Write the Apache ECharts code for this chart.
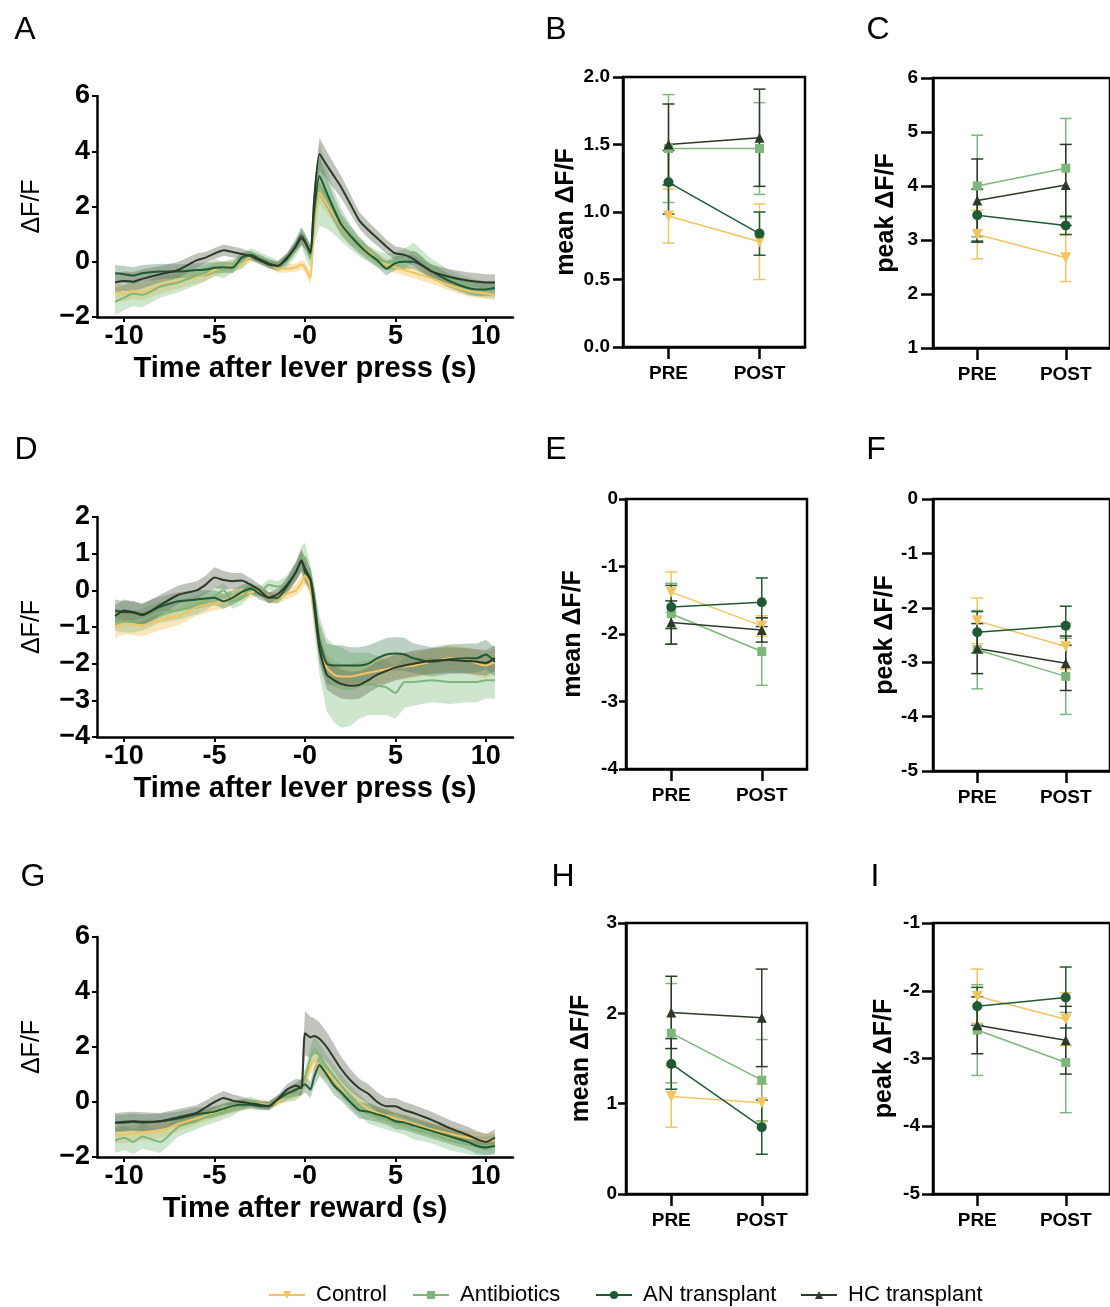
<!DOCTYPE html>
<html><head><meta charset="utf-8">
<script src="https://cdn.jsdelivr.net/npm/echarts@6/dist/echarts.min.js"></script>
<style>html,body{margin:0;padding:0;background:#fff}#main{width:1110px;height:1307px}</style>
</head><body><div id="main"></div>
<script>
const FONT = "'Liberation Sans', Arial, Helvetica, sans-serif";
const groups = ['Control', 'Antibiotics', 'AN transplant', 'HC transplant'];
const phases = ['PRE', 'POST'];
const timeTicks = [-10, -5, 0, 5, 10];

// time axis (s) shared by the three trace panels
const T = [-10.5,-10,-9.5,-9,-8,-7,-6,-5.5,-5,-4.5,
           -4,-3.5,-3,-2.5,-2,-1.5,-1,-0.5,-0.2,0,
           0.3,0.5,0.8,1.2,1.6,2,2.5,3,3.5,4,
           4.5,5,5.5,6,7,8,9,9.5,10,10.5];

// ---- Panel A (lever press) : mean traces ----
const A_Ctrl = [-1.1,-1.15,-1.05,-1.1,-0.85,-0.7,-0.55,-0.45,-0.3,-0.2,
                -0.15,-0.05,0.15,0.1,-0.05,-0.25,-0.25,-0.2,-0.1,-0.2,
                -0.6,1.2,2.5,2.1,1.7,1.3,0.9,0.6,0.35,0.1,
                -0.1,-0.2,-0.3,-0.4,-0.6,-0.85,-1.05,-1.1,-1.15,-1.2];
const A_Anti = [-1.45,-1.3,-1.15,-1.2,-0.9,-0.75,-0.5,-0.4,-0.2,-0.3,
                -0.15,0.0,0.3,0.15,0.0,-0.15,0.05,0.5,0.9,0.6,
                0.15,1.6,2.8,2.3,1.8,1.35,0.9,0.55,0.3,0.1,
                0.0,0.05,0.1,0.35,-0.2,-0.6,-0.85,-0.95,-1.0,-1.0];
const A_AN   = [-0.42,-0.45,-0.5,-0.42,-0.35,-0.35,-0.3,-0.28,-0.22,-0.2,
                -0.22,0.15,0.25,0.1,-0.05,-0.15,0.1,0.6,0.95,0.75,
                0.3,1.8,3.1,2.5,1.9,1.35,0.95,0.6,0.3,0.05,
                -0.25,-0.05,0.0,0.0,-0.35,-0.7,-0.95,-1.0,-1.0,-0.95];
const A_HC   = [-0.75,-0.7,-0.72,-0.62,-0.45,-0.3,0.05,0.15,0.3,0.42,
                0.35,0.28,0.2,0.05,-0.1,-0.15,0.15,0.55,0.85,0.7,
                0.35,2.2,3.9,3.5,3.1,2.7,2.1,1.5,1.15,0.85,
                0.55,0.3,0.25,0.1,-0.35,-0.55,-0.68,-0.72,-0.75,-0.75];
const A_Ctrl_s = [0.3,0.3,0.3,0.3,0.3,0.28,0.25,0.25,0.25,0.22,
                  0.2,0.2,0.15,0.15,0.15,0.15,0.15,0.15,0.15,0.2,
                  0.25,0.35,0.4,0.35,0.3,0.3,0.25,0.2,0.2,0.2,
                  0.2,0.2,0.2,0.2,0.2,0.2,0.2,0.2,0.2,0.2];
const A_Anti_s = [0.5,0.45,0.45,0.45,0.4,0.35,0.35,0.3,0.3,0.3,
                  0.25,0.25,0.2,0.2,0.2,0.2,0.25,0.3,0.35,0.4,
                  0.4,1.0,1.5,1.1,0.8,0.6,0.45,0.35,0.3,0.3,
                  0.3,0.3,0.35,0.35,0.3,0.3,0.3,0.3,0.3,0.3];
const A_AN_s   = [0.3,0.3,0.3,0.3,0.28,0.25,0.25,0.25,0.2,0.2,
                  0.2,0.2,0.15,0.15,0.15,0.15,0.2,0.25,0.3,0.3,
                  0.3,0.5,0.7,0.55,0.45,0.4,0.35,0.3,0.25,0.25,
                  0.25,0.25,0.25,0.25,0.25,0.25,0.25,0.25,0.25,0.25];
const A_HC_s   = [0.35,0.35,0.35,0.35,0.3,0.3,0.25,0.2,0.2,0.2,
                  0.2,0.2,0.15,0.15,0.15,0.15,0.15,0.2,0.25,0.25,
                  0.25,0.45,0.6,0.5,0.45,0.4,0.35,0.3,0.3,0.28,
                  0.25,0.25,0.25,0.25,0.25,0.28,0.3,0.3,0.3,0.3];

// ---- Panel D (lever press) ----
const D_Ctrl = [-1.0,-0.9,-0.92,-0.95,-0.8,-0.7,-0.45,-0.4,-0.35,-0.3,
                -0.15,-0.1,-0.05,0.0,-0.2,-0.2,-0.1,0.0,0.2,0.4,
                0.1,-0.6,-1.5,-2.1,-2.3,-2.35,-2.35,-2.3,-2.25,-2.2,
                -2.15,-2.1,-2.08,-2.05,-1.95,-1.85,-1.9,-2.0,-2.05,-1.95];
const D_Anti = [-0.8,-0.85,-0.85,-0.8,-0.6,-0.55,-0.4,-0.3,-0.15,0.0,
                -0.3,-0.2,0.05,-0.05,0.15,0.1,0.2,0.55,0.85,0.9,
                0.3,-0.5,-1.5,-2.3,-2.55,-2.65,-2.7,-2.6,-2.55,-2.6,
                -2.65,-2.8,-2.5,-2.5,-2.45,-2.5,-2.5,-2.5,-2.45,-2.45];
const D_AN   = [-0.55,-0.6,-0.6,-0.65,-0.45,-0.3,-0.25,-0.22,-0.2,-0.3,
                -0.2,-0.05,0.05,-0.1,-0.2,-0.2,0.1,0.5,0.8,0.5,
                0.3,-0.2,-1.4,-2.0,-2.05,-2.05,-2.05,-2.05,-2.0,-1.85,
                -1.75,-1.72,-1.75,-1.85,-1.95,-1.88,-1.85,-1.85,-1.75,-1.95];
const D_HC   = [-0.7,-0.55,-0.6,-0.68,-0.4,-0.12,0.0,0.15,0.35,0.28,
                0.25,0.27,0.15,0.0,-0.2,-0.1,0.15,0.5,0.82,0.6,
                0.3,-0.4,-1.6,-2.3,-2.45,-2.55,-2.6,-2.58,-2.45,-2.3,
                -2.2,-2.1,-2.05,-2.0,-1.92,-1.9,-1.93,-1.95,-1.98,-1.85];
const D_Ctrl_s = [0.3,0.3,0.3,0.3,0.28,0.25,0.25,0.22,0.2,0.2,
                  0.2,0.2,0.15,0.15,0.15,0.15,0.15,0.15,0.2,0.25,
                  0.25,0.3,0.35,0.35,0.35,0.35,0.35,0.35,0.35,0.35,
                  0.35,0.35,0.35,0.35,0.35,0.35,0.35,0.35,0.35,0.35];
const D_Anti_s = [0.3,0.3,0.3,0.3,0.28,0.25,0.25,0.25,0.22,0.2,
                  0.2,0.2,0.15,0.15,0.15,0.15,0.2,0.25,0.35,0.4,
                  0.4,0.6,0.8,1.0,1.05,1.1,1.0,0.9,0.85,0.8,
                  0.75,0.7,0.7,0.65,0.6,0.6,0.55,0.55,0.5,0.5];
const D_AN_s   = [0.3,0.3,0.3,0.3,0.28,0.25,0.25,0.22,0.2,0.2,
                  0.2,0.2,0.15,0.15,0.15,0.15,0.2,0.25,0.3,0.3,
                  0.3,0.4,0.5,0.55,0.55,0.55,0.5,0.5,0.5,0.45,
                  0.45,0.45,0.45,0.4,0.4,0.4,0.4,0.4,0.4,0.4];
const D_HC_s   = [0.3,0.3,0.3,0.3,0.28,0.25,0.25,0.25,0.28,0.25,
                  0.22,0.2,0.18,0.15,0.15,0.15,0.2,0.25,0.3,0.3,
                  0.3,0.35,0.4,0.4,0.4,0.4,0.38,0.38,0.35,0.35,
                  0.35,0.35,0.35,0.35,0.35,0.35,0.35,0.35,0.35,0.35];

// ---- Panel G (reward) ----
const G_Ctrl = [-1.2,-1.2,-1.15,-1.1,-1.05,-0.8,-0.6,-0.5,-0.4,-0.3,
                -0.2,-0.1,-0.05,-0.05,-0.1,0.0,0.2,0.3,0.5,0.8,
                1.3,1.5,1.35,1.1,0.8,0.5,0.2,-0.05,-0.25,-0.4,
                -0.5,-0.6,-0.7,-0.8,-1.0,-1.15,-1.3,-1.35,-1.4,-1.4];
const G_Anti = [-1.4,-1.3,-1.45,-1.25,-1.45,-0.9,-0.7,-0.55,-0.45,-0.35,
                -0.25,-0.1,0.05,-0.1,-0.1,0.1,0.2,0.3,0.55,0.9,
                1.6,1.95,1.7,1.3,0.95,0.6,0.2,-0.1,-0.4,-0.55,
                -0.65,-0.75,-0.85,-1.0,-1.15,-1.4,-1.55,-1.6,-1.6,-1.55];
const G_AN   = [-0.75,-0.75,-0.72,-0.75,-0.7,-0.6,-0.45,-0.4,-0.35,-0.25,
                -0.15,-0.1,-0.1,-0.15,-0.15,0.1,0.3,0.45,0.55,0.65,
                0.45,0.9,1.35,1.0,0.6,0.35,0.0,-0.3,-0.35,-0.45,
                -0.55,-0.7,-0.75,-0.85,-1.05,-1.25,-1.45,-1.6,-1.65,-1.6];
const G_HC   = [-0.75,-0.72,-0.7,-0.72,-0.7,-0.55,-0.4,-0.2,0.0,0.15,
                0.05,0.0,-0.05,-0.1,-0.15,0.1,0.45,0.6,0.5,2.5,
                2.35,2.4,2.3,2.0,1.6,1.2,0.8,0.5,0.3,0.0,
                -0.15,-0.15,-0.3,-0.4,-0.65,-0.95,-1.2,-1.35,-1.45,-1.3];
const G_Ctrl_s = [0.3,0.3,0.3,0.3,0.28,0.25,0.25,0.22,0.2,0.2,
                  0.2,0.2,0.15,0.15,0.15,0.15,0.15,0.2,0.2,0.25,
                  0.3,0.35,0.35,0.3,0.3,0.28,0.25,0.25,0.25,0.25,
                  0.25,0.25,0.25,0.25,0.25,0.25,0.25,0.25,0.25,0.25];
const G_Anti_s = [0.45,0.45,0.45,0.45,0.4,0.35,0.3,0.3,0.3,0.28,
                  0.25,0.2,0.15,0.15,0.15,0.15,0.2,0.25,0.3,0.35,
                  0.4,0.45,0.45,0.4,0.4,0.4,0.4,0.38,0.38,0.35,
                  0.35,0.35,0.35,0.35,0.35,0.35,0.35,0.35,0.35,0.35];
const G_AN_s   = [0.3,0.3,0.3,0.3,0.28,0.25,0.25,0.22,0.2,0.2,
                  0.2,0.2,0.15,0.15,0.15,0.15,0.2,0.25,0.3,0.3,
                  0.3,0.35,0.4,0.35,0.35,0.3,0.3,0.3,0.3,0.28,
                  0.28,0.28,0.28,0.28,0.28,0.28,0.28,0.28,0.28,0.28];
const G_HC_s   = [0.35,0.35,0.35,0.35,0.3,0.3,0.28,0.25,0.25,0.25,
                  0.22,0.2,0.15,0.15,0.15,0.15,0.2,0.25,0.3,0.8,
                  0.75,0.65,0.6,0.55,0.5,0.45,0.4,0.35,0.35,0.35,
                  0.3,0.3,0.3,0.3,0.3,0.3,0.3,0.3,0.3,0.3];

// ---- Summary panels: [PRE, POST] per group (Control, Antibiotics, AN, HC) ----
const B_mean = [[0.97, 0.78], [1.47, 1.47], [1.22, 0.84], [1.50, 1.55]];
const B_sem  = [[0.20, 0.28], [0.40, 0.34], [0.235, 0.16], [0.30, 0.36]];
const C_mean = [[3.10, 2.67], [4.00, 4.33], [3.46, 3.27], [3.73, 4.02]];
const C_sem  = [[0.45, 0.44], [0.94, 0.92], [0.48, 0.17], [0.77, 0.75]];
const E_mean = [[-1.38, -1.88], [-1.70, -2.26], [-1.60, -1.53], [-1.83, -1.94]];
const E_sem  = [[0.30, 0.15], [0.45, 0.50], [0.32, 0.36], [0.32, 0.18]];
const F_mean = [[-2.24, -2.71], [-2.77, -3.26], [-2.45, -2.33], [-2.75, -3.02]];
const F_sem  = [[0.42, 0.42], [0.72, 0.70], [0.38, 0.36], [0.46, 0.50]];
const H_mean = [[1.08, 1.01], [1.78, 1.26], [1.44, 0.74], [2.01, 1.95]];
const H_sem  = [[0.34, 0.21], [0.55, 0.45], [0.28, 0.30], [0.40, 0.54]];
const I_mean = [[-2.08, -2.42], [-2.58, -3.06], [-2.23, -2.10], [-2.51, -2.73]];
const I_sem  = [[0.40, 0.39], [0.67, 0.74], [0.28, 0.45], [0.42, 0.50]];

// ---- styling ----
const colors = ['#F4C45F', '#7FB67D', '#1F5A35', '#2D3A28'];
const bandColors = ['rgba(246,200,100,0.45)', 'rgba(140,196,138,0.42)', 'rgba(62,122,82,0.35)', 'rgba(104,114,98,0.42)'];
const symbols = ['path://M0,0L10,0L5,9Z', 'rect', 'circle', 'triangle'];
const symbolSizes = [11, 9, 10, 10];

const grids = [
  {left: 97, top: 96, width: 416, height: 221},   // A
  {left: 97, top: 517, width: 416, height: 220},  // D
  {left: 97, top: 937, width: 416, height: 220},  // G
  {left: 623, top: 77, width: 182, height: 270, show: true, borderColor: '#000', borderWidth: 2.5},  // B
  {left: 933, top: 78, width: 182, height: 270, show: true, borderColor: '#000', borderWidth: 2.5},  // C
  {left: 626, top: 499, width: 181, height: 270, show: true, borderColor: '#000', borderWidth: 2.5}, // E
  {left: 933, top: 499, width: 182, height: 272, show: true, borderColor: '#000', borderWidth: 2.5}, // F
  {left: 626, top: 923, width: 181, height: 271, show: true, borderColor: '#000', borderWidth: 2.5}, // H
  {left: 933, top: 923, width: 182, height: 271, show: true, borderColor: '#000', borderWidth: 2.5}  // I
];

const axLine = {show: true, onZero: false, lineStyle: {color: '#000', width: 2.5}};
const minusFmt = v => (v < 0 ? '\u2212' + Math.abs(v) : String(v));

const xAxes = [], yAxes = [];
const timeNames = ['Time after lever press (s)', 'Time after lever press (s)', 'Time after reward (s)'];
const timeY = [[-2, 6, 2], [-4, 2, 1], [-2, 6, 2]];
for (let i = 0; i < 3; i++) {
  xAxes.push({
    gridIndex: i, type: 'value', min: -11.5, max: 11.5,
    axisLine: axLine,
    axisTick: {show: true, customValues: timeTicks, length: 5, lineStyle: {color: '#000', width: 2}},
    axisLabel: {customValues: timeTicks, formatter: v => (v === 0 ? '-0' : String(v)), fontSize: 27, fontWeight: 'bold', color: '#000', fontFamily: FONT, margin: 6},
    splitLine: {show: false},
    name: timeNames[i], nameLocation: 'middle', nameGap: 37,
    nameTextStyle: {fontSize: 29, fontWeight: 'bold', color: '#000', fontFamily: FONT}
  });
  yAxes.push({
    gridIndex: i, type: 'value', min: timeY[i][0], max: timeY[i][1], interval: timeY[i][2],
    axisLine: axLine,
    axisTick: {show: true, length: 5, lineStyle: {color: '#000', width: 2}},
    axisLabel: {formatter: minusFmt, fontSize: 27, fontWeight: 'bold', color: '#000', fontFamily: FONT, margin: 7},
    splitLine: {show: false},
    name: '\u0394F/F', nameLocation: 'middle', nameGap: 52, nameRotate: 90,
    nameTextStyle: {fontSize: 25, color: '#000', fontFamily: FONT}
  });
}
// summary axes: [min, max, interval, name, nameGap, labelMargin, tickLen, decimals]
const boxY = [
  [0, 2, 0.5, 'mean \u0394F/F', 44, 13, 10, 1],
  [1, 6, 1, 'peak \u0394F/F', 34, 15, 12, 0],
  [-4, 0, 1, 'mean \u0394F/F', 40, 8, 7, 0],
  [-5, 0, 1, 'peak \u0394F/F', 34, 15, 11, 0],
  [0, 3, 1, 'mean \u0394F/F', 32, 9, 8, 0],
  [-5, -1, 1, 'peak \u0394F/F', 36, 13, 11, 0]
];
boxY.forEach((b, k) => {
  const gi = k + 3;
  xAxes.push({
    gridIndex: gi, type: 'category', data: phases, boundaryGap: true,
    axisLine: axLine,
    axisTick: {show: true, alignWithLabel: true, length: 12, lineStyle: {color: '#000', width: 2.5}},
    axisLabel: {fontSize: 19, fontWeight: 'bold', color: '#000', fontFamily: FONT, margin: 17},
    splitLine: {show: false}
  });
  yAxes.push({
    gridIndex: gi, type: 'value', min: b[0], max: b[1], interval: b[2],
    axisLine: axLine,
    axisTick: {show: true, length: b[6], lineStyle: {color: '#000', width: 2.5}},
    axisLabel: {formatter: v => v.toFixed(b[7]), fontSize: 19, fontWeight: 'bold', color: '#000', fontFamily: FONT, margin: b[5]},
    splitLine: {show: false},
    name: b[3], nameLocation: 'middle', nameGap: b[4], nameRotate: 90,
    nameTextStyle: {fontSize: 25, fontWeight: 'bold', color: '#000', fontFamily: FONT}
  });
});

const series = [];
const summary = [[B_mean, B_sem], [C_mean, C_sem], [E_mean, E_sem], [F_mean, F_sem], [H_mean, H_sem], [I_mean, I_sem]];
// line + marker series first (legend uses the first series of each name)
summary.forEach((p, k) => {
  const gi = k + 3;
  groups.forEach((g, j) => {
    series.push({
      type: 'line', name: g, xAxisIndex: gi, yAxisIndex: gi,
      data: p[0][j], symbol: symbols[j], symbolSize: symbolSizes[j], showSymbol: true,
      lineStyle: {color: colors[j], width: 1.5}, itemStyle: {color: colors[j]},
      z: 5, silent: true
    });
  });
});
summary.forEach((p, k) => {
  const gi = k + 3;
  groups.forEach((g, j) => {
    const col = colors[j];
    series.push({
      type: 'custom', name: g + ' SEM', xAxisIndex: gi, yAxisIndex: gi, z: 3, silent: true,
      data: p[0][j].map((m, i) => [i, m, p[1][j][i]]),
      encode: {x: 0, y: 1},
      renderItem: function (params, api) {
        const x = api.value(0), m = api.value(1), s = api.value(2);
        const hi = api.coord([x, m + s]), lo = api.coord([x, m - s]);
        const w = 6, st = {stroke: col, lineWidth: 1.5};
        return {type: 'group', children: [
          {type: 'line', shape: {x1: hi[0], y1: hi[1], x2: lo[0], y2: lo[1]}, style: st},
          {type: 'line', shape: {x1: hi[0] - w, y1: hi[1], x2: hi[0] + w, y2: hi[1]}, style: st},
          {type: 'line', shape: {x1: lo[0] - w, y1: lo[1], x2: lo[0] + w, y2: lo[1]}, style: st}
        ]};
      }
    });
  });
});

// trace panels
const traces = [
  [[A_Ctrl, A_Ctrl_s], [A_Anti, A_Anti_s], [A_AN, A_AN_s], [A_HC, A_HC_s]],
  [[D_Ctrl, D_Ctrl_s], [D_Anti, D_Anti_s], [D_AN, D_AN_s], [D_HC, D_HC_s]],
  [[G_Ctrl, G_Ctrl_s], [G_Anti, G_Anti_s], [G_AN, G_AN_s], [G_HC, G_HC_s]]
];
traces.forEach((panel, gi) => {
  panel.forEach((tr, j) => {
    const mean = tr[0], sem = tr[1];
    series.push({
      type: 'custom', name: groups[j] + ' band', xAxisIndex: gi, yAxisIndex: gi, z: 1, silent: true,
      data: [[T[0], mean[0]]], encode: {x: 0, y: 1},
      renderItem: function (params, api) {
        const up = [], lo = [];
        const n = Math.min(T.length, mean.length, sem.length);
        for (let i = 0; i < n; i++) {
          up.push(api.coord([T[i], mean[i] + sem[i]]));
          lo.push(api.coord([T[i], mean[i] - sem[i]]));
        }
        return {type: 'polygon', shape: {points: up.concat(lo.reverse())}, style: {fill: bandColors[j]}};
      }
    });
  });
  panel.forEach((tr, j) => {
    series.push({
      type: 'line', name: groups[j], xAxisIndex: gi, yAxisIndex: gi, z: 2, silent: true,
      data: T.map((t, i) => [t, tr[0][i]]), showSymbol: false, symbol: 'none', smooth: 0.2,
      lineStyle: {color: colors[j], width: 2}, itemStyle: {color: colors[j]}
    });
  });
});

const legendLefts = [263, 407, 590, 795];
const legends = groups.map((g, i) => ({
  data: [g], left: legendLefts[i], top: 1279, itemWidth: 36, itemHeight: 10, selectedMode: false,
  textStyle: {fontSize: 22, color: '#000', fontFamily: FONT, padding: [0, 0, 0, 6]}
}));

const letters = [['A', 25, 30], ['B', 556, 30], ['C', 878, 30], ['D', 26, 450], ['E', 556, 450], ['F', 876, 450], ['G', 33, 877], ['H', 563, 877], ['I', 875, 877]];
const graphic = letters.map(l => ({
  type: 'text', x: l[1], y: l[2], silent: true,
  style: {text: l[0], fontSize: 32, fontFamily: FONT, fill: '#000', align: 'center', verticalAlign: 'middle'}
}));

const chart = echarts.init(document.getElementById('main'), null, {renderer: 'canvas'});
chart.setOption({
  animation: false,
  backgroundColor: '#fff',
  grid: grids,
  xAxis: xAxes,
  yAxis: yAxes,
  legend: legends,
  graphic: graphic,
  series: series
});
</script></body></html>
